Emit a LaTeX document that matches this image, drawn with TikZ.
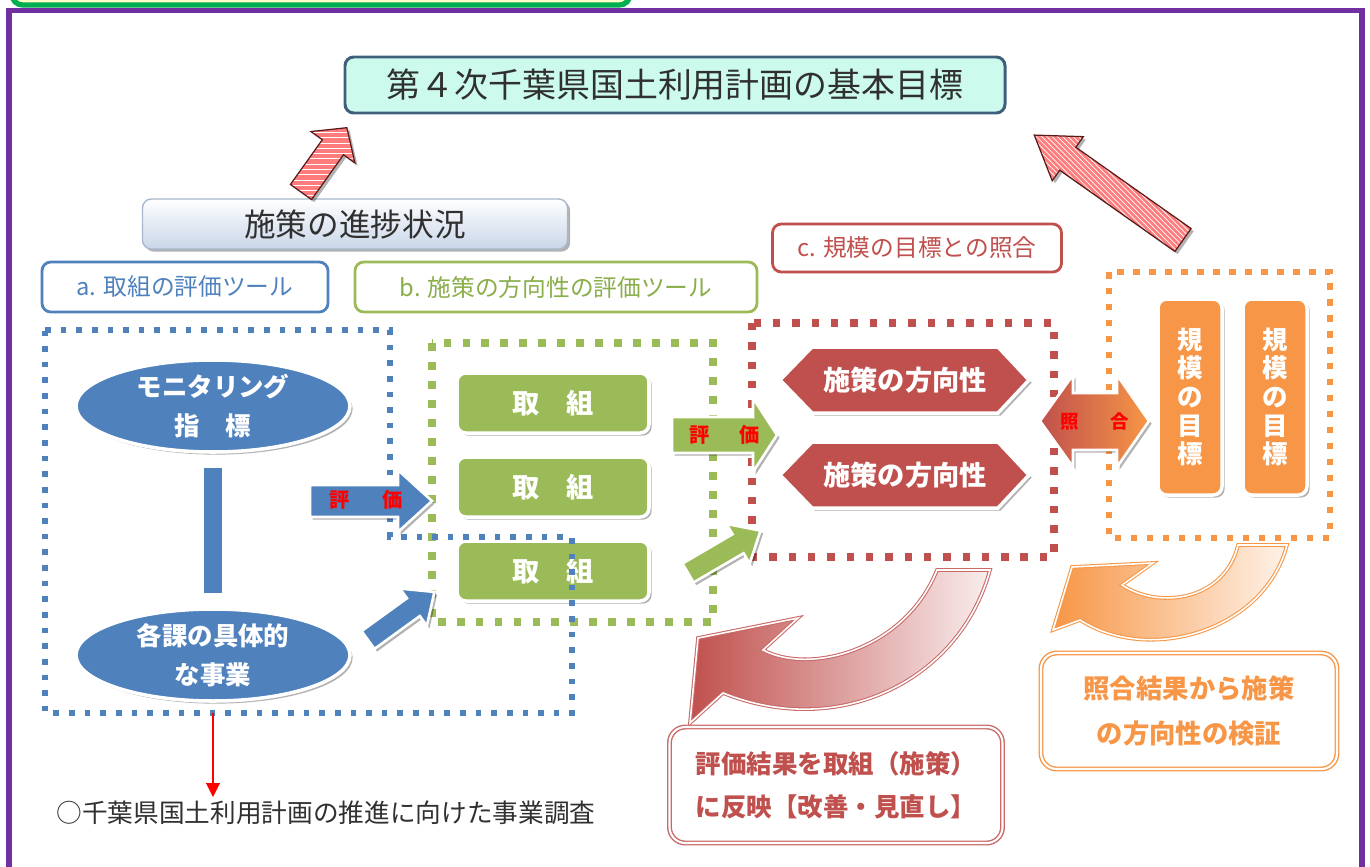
\documentclass[tikz,border=0pt]{standalone}
\usepackage{fontspec}
\setmainfont{Noto Sans CJK JP}
\usetikzlibrary{shapes.geometric,shadows,patterns,arrows.meta}
\definecolor{ublue}{HTML}{4F81BD}
\definecolor{ugreen}{HTML}{9BBB59}
\definecolor{ugreentxt}{HTML}{8AAE4A}
\definecolor{ured}{HTML}{C0504D}
\definecolor{uorange}{HTML}{F79646}
\definecolor{upurple}{HTML}{7030A0}
\definecolor{ugreentop}{HTML}{00B050}
\definecolor{paleyellow}{HTML}{FFFFC8}
\definecolor{mint}{HTML}{CCFBEE}
\definecolor{titleborder}{HTML}{3F5F7C}
\definecolor{progbot}{HTML}{C9D6E8}
\definecolor{progborder}{HTML}{A8B8CC}
\definecolor{hpink}{HTML}{FF7C7C}
\definecolor{hdark}{HTML}{5A1A1A}
\definecolor{txtgray}{HTML}{303030}
\newdimen\ux \ux=0.02cm
\newcommand\blkarrow[8]{%
  \begin{scope}[shift={(#2,#3)},rotate=#4]
    \path[#1] (0,-#6) -- ({#5-#8},-#6) -- ({#5-#8},-#7) -- (#5,0) -- ({#5-#8},#7) -- ({#5-#8},#6) -- (0,#6) -- cycle;
  \end{scope}}
\tikzset{
  shd/.style={drop shadow={shadow xshift=1.5pt,shadow yshift=-1.5pt,opacity=0.3,fill=black}},
  titlebox/.style={draw=titleborder, fill=mint, line width=1.7pt, rounded corners=5pt,
    minimum width=660\ux, minimum height=56\ux, inner sep=0pt, text=txtgray,
    font=\fontsize{19.3pt}{22pt}\selectfont},
  progbox/.style={draw=progborder, top color=white, bottom color=progbot, line width=0.8pt,
    rounded corners=5pt, minimum width=425\ux, minimum height=50\ux, inner sep=0pt,
    text=txtgray, font=\fontsize{18pt}{20pt}\selectfont, shd},
  labbox/.style={fill=white, line width=1.6pt, rounded corners=5pt, minimum height=50\ux,
    inner sep=0pt, font=\fontsize{13.5pt}{15pt}\selectfont},
  dotblue/.style={draw=ublue, line width=3.2pt, dash pattern=on 3.2pt off 5.7pt},
  dotgreen/.style={draw=ugreen, line width=4.3pt, dash pattern=on 4.5pt off 6.3pt},
  dotred/.style={draw=ured, line width=4pt, dash pattern=on 4.2pt off 6.8pt},
  dotorange/.style={draw=uorange, line width=3.6pt, dash pattern=on 3.7pt off 5.4pt},
  ellbox/.style={ellipse, fill=ublue, draw=white, line width=2pt, minimum width=274\ux,
    minimum height=92\ux, inner sep=0pt, text=white, align=center,
    font=\bfseries\fontsize{14.5pt}{22.5pt}\selectfont, shd},
  grnbox/.style={rectangle, rounded corners=5pt, fill=ugreen, draw=white, line width=2pt,
    minimum width=192\ux, minimum height=60\ux, inner sep=0pt, text=white,
    font=\bfseries\fontsize{15.5pt}{18pt}\selectfont, shd},
  hexshape/.style={fill=ured, draw=white, line width=2pt, shd},
  hextext/.style={text=white, inner sep=0pt, font=\bfseries\fontsize{15.5pt}{18pt}\selectfont},
  orgbox/.style={rectangle, rounded corners=5pt, fill=uorange, draw=white, line width=2pt,
    minimum width=64\ux, minimum height=196\ux, inner sep=0pt, text=white, align=center,
    font=\bfseries\fontsize{14.5pt}{16.3pt}\selectfont, shd},
  bluearr/.style={fill=ublue, draw=white, line width=1.5pt, shd},
  greenarr/.style={fill=ugreen, draw=white, line width=1.5pt, shd},
  hatcharr/.style={shd, preaction={fill=hpink}, pattern=#1, pattern color=white,
    draw=hdark, line width=0.7pt},
  arrtext/.style={text=red, inner sep=0pt, font=\bfseries\fontsize{11.5pt}{12pt}\selectfont},
  dblarr/.style={left color=ured, right color=uorange, draw=white, line width=1.5pt, shd},
  curvred/.style={left color=ured, right color=white!90!ured, draw=ured!85,
    double=white, double distance=0.9pt, line width=0.6pt},
  curvorg/.style={left color=uorange, right color=white!88!uorange, draw=uorange,
    double=white, double distance=0.9pt, line width=0.6pt},
  redtxtbox/.style={rounded corners=9pt, draw=ured!85, double=white, double distance=1.2pt,
    line width=0.8pt, fill=white, minimum width=333\ux, minimum height=116\ux, inner sep=0pt,
    text=ured, align=center, font=\bfseries\fontsize{14.5pt}{24.4pt}\selectfont},
  orgtxtbox/.style={rounded corners=9pt, draw=uorange, double=white, double distance=1.2pt,
    line width=0.8pt, fill=white, minimum width=296\ux, minimum height=116\ux, inner sep=0pt,
    text=uorange, align=center, font=\bfseries\fontsize{15pt}{25.5pt}\selectfont},
  notetext/.style={inner sep=0pt, text=txtgray, font=\fontsize{14.6pt}{17pt}\selectfont},
  downarr/.style={red, line width=1.7pt, -{Triangle[length=8pt,width=7.5pt]}}
}
\begin{document}
\begin{tikzpicture}[x=0.02cm,y=-0.02cm]
\useasboundingbox (0,0) rectangle (1370,866);
% outer frames
\draw[line width=3pt, draw=ugreentop, fill=paleyellow, rounded corners=6pt] (12,-60) rectangle (630,5);
\draw[line width=3.3pt, draw=upurple] (9,10.5) rectangle (1362,930);
% title and headers
\node[titlebox] (T) at (675,85) {第４次千葉県国土利用計画の基本目標};
\node[progbox] (P) at (355,224) {施策の進捗状況};
\node[labbox, draw=ublue, text=ublue, minimum width=286\ux] (LA) at (185,287) {a. 取組の評価ツール};
\node[labbox, draw=ugreen, text=ugreentxt, minimum width=402\ux] (LB) at (556,287) {b. 施策の方向性の評価ツール};
\node[labbox, draw=ured, text=ured, minimum width=289\ux, minimum height=48\ux] (LC) at (917,248) {c. 規模の目標との照合};
% dotted frames (green, red, orange)
\draw[dotgreen] (432,343) rectangle (713,622);
\draw[dotred] (752,323) rectangle (1054,557);
\draw[dotorange] (1109,272) rectangle (1330,538);
% left column
\node[ellbox] (E1) at (213,406) {モニタリング\\指　標};
\node[ellbox] (E2) at (213,655) {各課の具体的\\な事業};
\draw[ublue, line width=10.8pt, shorten <=8pt, shorten >=8pt] (E1) -- (E2);
% green boxes
\node[grnbox] (G1) at (553,403) {取　組};
\node[grnbox] (G2) at (553,487) {取　組};
\node[grnbox] (G3) at (553,571) {取　組};
% blue dotted L frame
\draw[dotblue] (45,330) -- (390,330) -- (390,537) -- (572,537) -- (572,713) -- (45,713) -- cycle;
% hexagons
\path[hexshape] (780,380) -- (812,347) -- (998,347) -- (1029,380) -- (998,413) -- (812,413) -- cycle;
\node[hextext] (H1) at (905,380) {施策の方向性};
\path[hexshape] (780,475) -- (812,442) -- (998,442) -- (1029,475) -- (998,508) -- (812,508) -- cycle;
\node[hextext] (H2) at (905,475) {施策の方向性};
% orange goal boxes
\node[orgbox] (R1) at (1190,397) {規\\模\\の\\目\\標};
\node[orgbox] (R2) at (1275,397) {規\\模\\の\\目\\標};
% double arrow
\path[dblarr] (1040,421) -- (1073,375) -- (1073,393) -- (1117,393) -- (1117,375) -- (1149,421)
  -- (1117,467) -- (1117,450) -- (1073,450) -- (1073,467) -- cycle;
\node[arrtext, font=\bfseries\fontsize{10.5pt}{12pt}\selectfont] (DT) at (1095,422) {照\hspace{18pt}合};
% block arrows
\blkarrow{bluearr}{310}{501}{0}{122}{16}{31}{34}
\node[arrtext] (A3t) at (366,500) {評\hspace{19pt}価};
\blkarrow{bluearr}{368}{640}{35.9}{82}{11}{23}{26}
\blkarrow{greenarr}{672}{435}{0}{105}{18}{37}{24}
\node[arrtext] (A5t) at (725,435) {評\hspace{17pt}価};
\blkarrow{greenarr}{688}{573}{30.3}{84}{11}{23}{26}
% hatched arrows to the title
\blkarrow{hatcharr=horizontal lines}{301}{192}{54.5}{79}{13}{27}{24}
\blkarrow{hatcharr=north west lines}{1183}{240}{144.8}{182}{14}{27}{41}
% curved arrows
\draw[curvred] (937,570) -- (990,570) .. controls (960,680) and (840,740) .. (723,693)
  -- (690,723) -- (698,638) -- (798,618) -- (763,650)
  .. controls (810,675) and (905,650) .. (937,570) -- cycle;
\draw[curvorg] (1238,545) -- (1287,545) .. controls (1265,630) and (1150,665) .. (1080,620)
  -- (1053,630) -- (1072,567) -- (1153,563) -- (1122,585)
  .. controls (1160,610) and (1225,600) .. (1238,545) -- cycle;
% text boxes
\node[redtxtbox] (RB) at (836,785) {評価結果を取組（施策）\\に反映【改善・見直し】};
\node[orgtxtbox] (OB) at (1189,711) {照合結果から施策\\の方向性の検証};
% bottom note
\node[notetext] (N) at (326,813) {○千葉県国土利用計画の推進に向けた事業調査};
\draw[downarr, shorten <=6pt, shorten >=2pt] (E2.south) -- (E2.south |- N.north);
\end{tikzpicture}
\end{document}
